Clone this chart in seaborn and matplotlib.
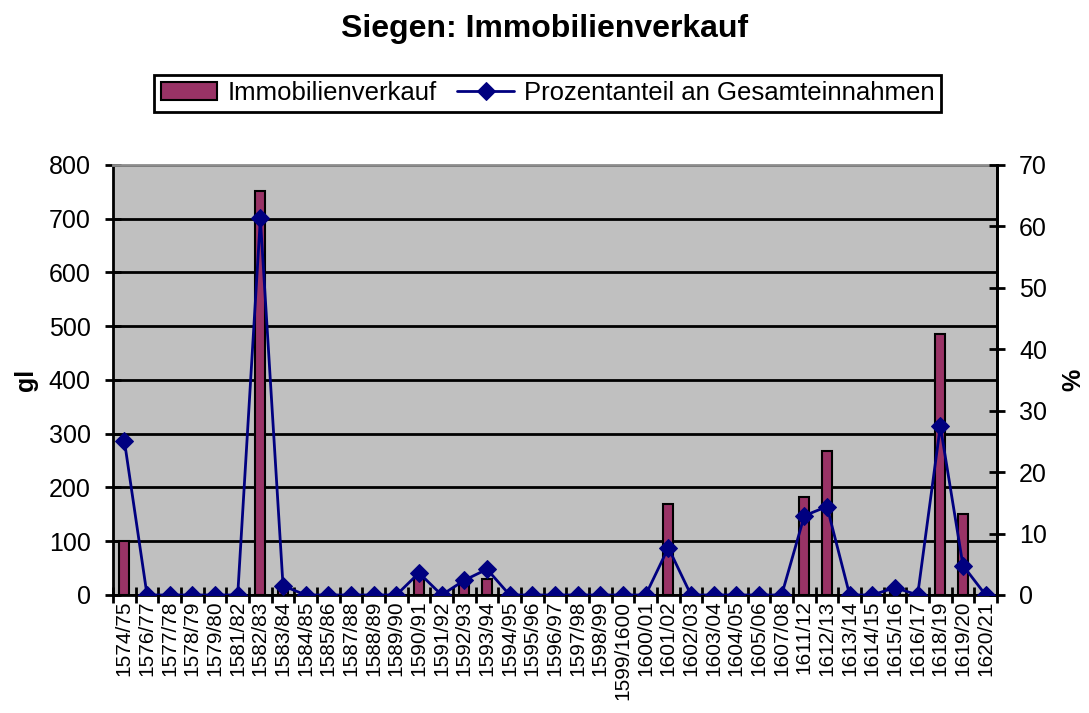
import numpy as np
import pandas as pd
import matplotlib
matplotlib.use("Agg")
import matplotlib.pyplot as plt
import seaborn as sns

# Rechnungsjahre, Erlös aus Immobilienverkauf (gl) und Anteil an Gesamteinnahmen (%)
periods = [
    "1574/75", "1576/77", "1577/78", "1578/79", "1579/80", "1581/82", "1582/83",
    "1583/84", "1584/85", "1585/86", "1587/88", "1588/89", "1589/90", "1590/91",
    "1591/92", "1592/93", "1593/94", "1594/95", "1595/96", "1596/97", "1597/98",
    "1598/99", "1599/1600", "1600/01", "1601/02", "1602/03", "1603/04", "1604/05",
    "1605/06", "1607/08", "1611/12", "1612/13", "1613/14", "1614/15", "1615/16",
    "1616/17", "1618/19", "1619/20", "1620/21",
]
sales = [
    100, 0, 0, 0, 0, 0, 752,
    10, 0, 0, 0, 0, 0, 31,
    0, 22, 30, 0, 0, 0, 0,
    0, 0, 0, 169, 0, 0, 0,
    0, 0, 182, 267, 0, 0, 4,
    0, 486, 150, 0,
]
share = [
    25.1, 0, 0, 0, 0, 0, 61.3,
    1.5, 0, 0, 0, 0, 0, 3.6,
    0, 2.4, 4.2, 0, 0, 0, 0,
    0, 0, 0, 7.7, 0, 0, 0,
    0, 0, 12.9, 14.4, 0, 0, 1.2,
    0, 27.5, 4.8, 0,
]

df = pd.DataFrame({"period": periods, "sales": sales, "share": share})
df["pos"] = np.arange(len(df))

sns.set_style("white")
plt.rcParams["font.family"] = ["Liberation Sans", "DejaVu Sans"]
plt.rcParams.update({"text.color": "black", "axes.labelcolor": "black",
                     "xtick.color": "black", "ytick.color": "black"})

fig = plt.figure(figsize=(10.89, 7.13), dpi=100)
ax = fig.add_axes([0.1038, 0.1655, 0.8117, 0.6031])
ax.set_facecolor("#C0C0C0")

sns.barplot(data=df, x="period", y="sales", ax=ax, color="#993366",
            saturation=1, width=0.45, edgecolor="black", linewidth=1.5, zorder=3)
ax.set_ylim(0, 800)
ax.set_xlim(-0.5, len(df) - 0.5)
ax.set_yticks(range(0, 801, 100))
ax.yaxis.grid(True, color="black", linewidth=2)
ax.set_axisbelow(True)
ax.set_xlabel("")
ax.set_ylabel("gl", fontsize=18, fontweight="bold", labelpad=8)
ax.tick_params(axis="y", labelsize=18, direction="inout", length=12, width=2,
               left=True, pad=10)
ax.tick_params(axis="x", which="major", labelsize=15, rotation=90, length=0, pad=4)
ax.set_xticks(np.arange(-0.5, len(df), 1), minor=True)
ax.tick_params(axis="x", which="minor", direction="inout", length=11, width=2, bottom=True)
for side in ["left", "right", "bottom"]:
    ax.spines[side].set_linewidth(2)
    ax.spines[side].set_color("black")
ax.spines["top"].set_linewidth(2)
ax.spines["top"].set_color("#8C8C8C")

ax2 = ax.twinx()
sns.lineplot(data=df, x="pos", y="share", ax=ax2, color="#000080", linewidth=2,
             marker="D", markersize=9, markeredgecolor="#000080", zorder=4)
ax2.set_ylim(0, 70)
ax2.set_yticks(range(0, 71, 10))
ax2.set_ylabel("%", fontsize=18, fontweight="bold", labelpad=10)
ax2.tick_params(axis="y", labelsize=18, direction="inout", length=12, width=2,
                right=True, pad=10)
ax2.set_xlim(-0.5, len(df) - 0.5)
for side in ["top", "left", "bottom"]:
    ax2.spines[side].set_visible(False)
ax2.spines["right"].set_linewidth(2)
ax2.spines["right"].set_color("black")

handles = [ax.patches[0], ax2.lines[0]]
labels = ["Immobilienverkauf", "Prozentanteil an Gesamteinnahmen"]
leg = fig.legend(handles, labels, loc="center", bbox_to_anchor=(0.503, 0.869), ncol=2,
                 fontsize=18.5, frameon=True, fancybox=False, edgecolor="black",
                 handlelength=2.2, handletextpad=0.4, columnspacing=0.8,
                 borderpad=0.25, framealpha=1)
leg.get_frame().set_linewidth(2)

fig.suptitle("Siegen: Immobilienverkauf", fontsize=23, fontweight="bold", y=0.98)

fig.savefig("out.png", dpi=100)
